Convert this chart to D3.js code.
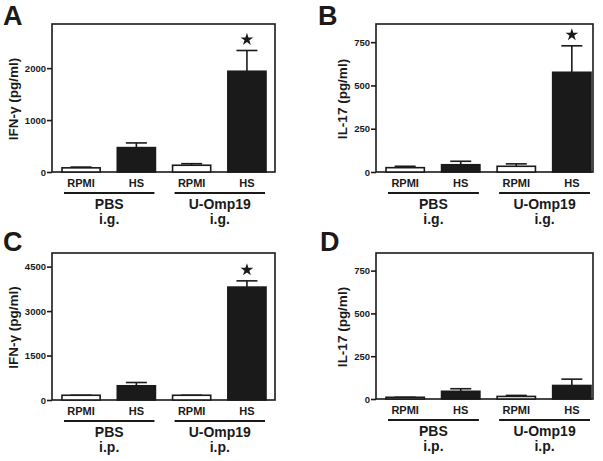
<!DOCTYPE html>
<html><head><meta charset="utf-8">
<script src="https://cdn.jsdelivr.net/npm/d3@7"></script>
<style>
html,body{margin:0;padding:0;background:#fff;}
svg text{font-family:Arial,"Liberation Sans",Helvetica,sans-serif;font-weight:bold;fill:#1a1a1a;}
</style></head>
<body>
<svg id="chart" width="603" height="461"></svg>
<script>
const categories = ["PBS RPMI","PBS HS","U-Omp19 RPMI","U-Omp19 HS"];
const barLabels = ["RPMI","HS","RPMI","HS"];
const groupNames = ["PBS","U-Omp19"];

const valuesA = [80, 470, 130, 1940];
const errorsA = [95, 560, 160, 2340];
const valuesB = [25, 42, 33, 576];
const errorsB = [33, 62, 47, 729];
const valuesC = [160, 480, 160, 3810];
const errorsC = [160, 590, 160, 4020];
const valuesD = [10, 45, 15, 79];
const errorsD = [10, 60, 21, 116];

const ticksA = [0, 1000, 2000];
const ticksB = [0, 250, 500, 750];
const ticksC = [0, 1500, 3000, 4500];
const ticksD = [0, 250, 500, 750];

const starsA = [false, false, false, true];
const starsB = [false, false, false, true];
const starsC = [false, false, false, true];
const starsD = [false, false, false, false];

const panels = [
  {letter:"A", title:"IFN-\u03B3 (pg/ml)", route:"i.g.", values:valuesA, errors:errorsA, ticks:ticksA, stars:starsA, ymax:2850,
   frame:{l:52,t:24,r:275,b:172}, bars:[62,266], letterX:3, letterY:25, titleX:18},
  {letter:"B", title:"IL-17 (pg/ml)", route:"i.g.", values:valuesB, errors:errorsB, ticks:ticksB, stars:starsB, ymax:855,
   frame:{l:376,t:24,r:593,b:172}, bars:[386,591], letterX:318, letterY:25, titleX:347},
  {letter:"C", title:"IFN-\u03B3 (pg/ml)", route:"i.p.", values:valuesC, errors:errorsC, ticks:ticksC, stars:starsC, ymax:4960,
   frame:{l:52,t:253,r:275,b:400}, bars:[62,266], letterX:3, letterY:251, titleX:18},
  {letter:"D", title:"IL-17 (pg/ml)", route:"i.p.", values:valuesD, errors:errorsD, ticks:ticksD, stars:starsD, ymax:853,
   frame:{l:376,t:253,r:593,b:399}, bars:[386,591], letterX:320, letterY:251, titleX:347}
];

const svg = d3.select("#chart");
const ink = "#1a1a1a";

panels.forEach(p => {
  const g = svg.append("g");
  const f = p.frame;
  const x = d3.scaleBand().domain(categories).range(p.bars).paddingInner(0.31).paddingOuter(0);
  const y = d3.scaleLinear().domain([0, p.ymax]).range([f.b, f.t]);

  // frame
  g.append("rect").attr("x", f.l).attr("y", f.t).attr("width", f.r - f.l).attr("height", f.b - f.t)
    .attr("fill", "none").attr("stroke", ink).attr("stroke-width", 1.6);

  // y axis
  const ax = g.append("g").attr("transform", `translate(${f.l},0)`)
    .call(d3.axisLeft(y).tickValues(p.ticks).tickSize(5).tickPadding(1).tickFormat(d3.format("d")));
  ax.select(".domain").remove();
  ax.selectAll(".tick line").attr("stroke", ink).attr("stroke-width", 1.6);
  ax.selectAll(".tick text").attr("font-size", 9.5).attr("fill", ink)
    .style("font-family", 'Arial,"Liberation Sans",sans-serif').style("font-weight", "bold");

  // y title
  const cy = (f.t + f.b) / 2 + 1;
  g.append("text").attr("transform", `translate(${p.titleX},${cy}) rotate(-90)`)
    .attr("text-anchor", "middle").attr("font-size", 13.5).text(p.title);

  // error bars
  categories.forEach((c, i) => {
    const cx = x(c) + x.bandwidth() / 2;
    if (p.errors[i] > p.values[i]) {
      g.append("line").attr("x1", cx).attr("x2", cx).attr("y1", y(p.values[i])).attr("y2", y(p.errors[i]))
        .attr("stroke", ink).attr("stroke-width", 1.6);
    }
    g.append("line").attr("x1", cx - 10.5).attr("x2", cx + 10.5).attr("y1", y(p.errors[i])).attr("y2", y(p.errors[i]))
      .attr("stroke", ink).attr("stroke-width", 1.6);
  });

  // bars
  categories.forEach((c, i) => {
    const white = i % 2 === 0;
    g.append("rect").attr("x", x(c)).attr("y", y(p.values[i]))
      .attr("width", x.bandwidth()).attr("height", Math.max(0, y(0) - y(p.values[i])))
      .attr("fill", white ? "#fff" : ink).attr("stroke", ink).attr("stroke-width", 1.6);
  });

  // stars
  categories.forEach((c, i) => {
    if (!p.stars[i]) return;
    const cx = x(c) + x.bandwidth() / 2;
    g.append("path").attr("d", d3.symbol().type(d3.symbolStar).size(50)())
      .attr("transform", `translate(${cx},${y(p.errors[i]) - 11})`).attr("fill", ink);
  });

  // bar labels
  categories.forEach((c, i) => {
    g.append("text").attr("x", x(c) + x.bandwidth() / 2).attr("y", f.b + 15)
      .attr("text-anchor", "middle").attr("font-size", 11).text(barLabels[i]);
  });

  // group lines and labels
  groupNames.forEach((gn, k) => {
    const c1 = categories[2 * k], c2 = categories[2 * k + 1];
    const x1 = x(c1) + 2, x2 = x(c2) + x.bandwidth() - 1;
    g.append("line").attr("x1", x1).attr("x2", x2).attr("y1", f.b + 21).attr("y2", f.b + 21)
      .attr("stroke", ink).attr("stroke-width", 1.8);
    const mx = (x1 + x2) / 2;
    g.append("text").attr("x", mx).attr("y", f.b + 37).attr("text-anchor", "middle").attr("font-size", 14).text(gn);
    g.append("text").attr("x", mx).attr("y", f.b + 52).attr("text-anchor", "middle").attr("font-size", 14).text(p.route);
  });

  // panel letter
  g.append("text").attr("x", p.letterX).attr("y", p.letterY)
    .attr("font-size", 27).text(p.letter);
});
</script>
</body></html>
